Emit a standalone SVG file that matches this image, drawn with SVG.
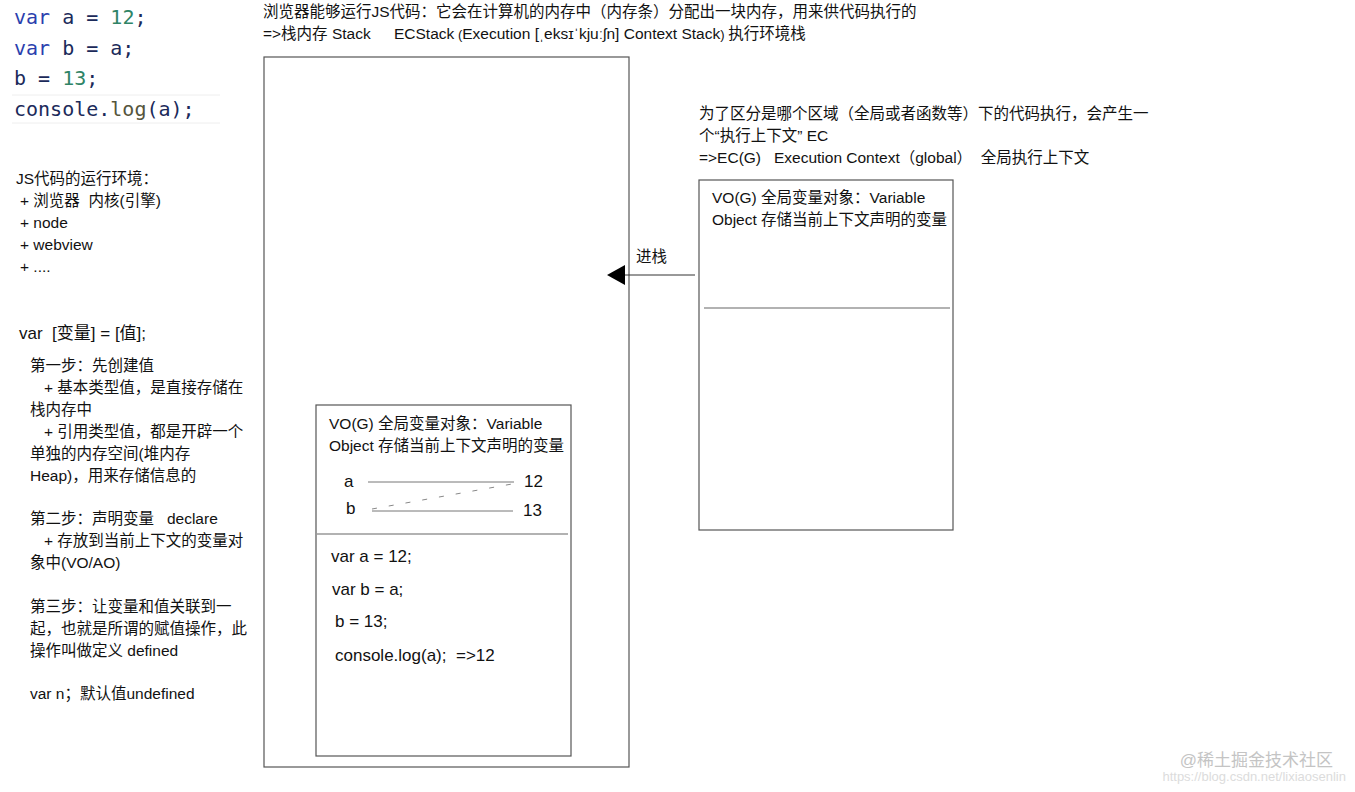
<svg xmlns="http://www.w3.org/2000/svg" width="1355" height="792" viewBox="0 0 1355 792" xml:space="preserve">
<style>
text{white-space:pre}
.t{font-family:"Liberation Sans","Noto Sans CJK SC",sans-serif;font-size:15.5px;fill:#111}
.code{font-family:"DejaVu Sans Mono","Liberation Mono",monospace;font-size:20px}
.kw{fill:#2b3fae}.id{fill:#1b2a5a}.num{fill:#2f8466}.fn{fill:#55553c}
.box{fill:#fff;stroke:#555;stroke-width:1.2}
.div{stroke:#666;stroke-width:1.2}
.m{font-family:"Liberation Sans","Noto Sans CJK SC",sans-serif;font-size:17px;fill:#111}
</style>
<defs>
<marker id="ah" markerWidth="18" markerHeight="20" refX="0" refY="10" orient="auto" markerUnits="userSpaceOnUse">
<path d="M0,0 L18,10 L0,20 Z" fill="#000"/>
</marker>
</defs>
<rect width="1355" height="792" fill="#fff"/>
<g id="code">
<line x1="12" y1="95" x2="220" y2="95" stroke="#eee" stroke-width="1"/>
<line x1="12" y1="123" x2="220" y2="123" stroke="#eee" stroke-width="1"/>
<text class="code" x="14" y="24"><tspan class="kw">var</tspan><tspan class="id"> a = </tspan><tspan class="num">12</tspan><tspan class="id">;</tspan></text>
<text class="code" x="14" y="55"><tspan class="kw">var</tspan><tspan class="id"> b = a;</tspan></text>
<text class="code" x="14" y="85"><tspan class="id">b = </tspan><tspan class="num">13</tspan><tspan class="id">;</tspan></text>
<text class="code" x="14" y="116"><tspan class="id">console.</tspan><tspan class="fn">log</tspan><tspan class="id">(a);</tspan></text>
</g>
<g id="title">
<text class="t" x="263" y="17">浏览器能够运行JS代码：它会在计算机的内存中（内存条）分配出一块内存，用来供代码执行的</text>
<text class="t" x="263" y="39">=&gt;栈内存 Stack<tspan x="394">ECStack</tspan><tspan font-size="13"> (</tspan>Execution [ˌeksɪˈkjuːʃn] Context Stack<tspan font-size="13">) </tspan>执行环境栈</text>
</g>
<g id="env">
<text class="t" x="16" y="184">JS代码的运行环境：</text>
<text class="t" x="20" y="206">+ 浏览器  内核(引擎)</text>
<text class="t" x="20" y="228">+ node</text>
<text class="t" x="20" y="250">+ webview</text>
<text class="t" x="20" y="272">+ ....</text>
</g>
<g id="steps">
<text class="m" x="19" y="339">var  [变量] = [值];</text>
<text class="t" x="30" y="371">第一步：先创建值</text>
<text class="t" x="44" y="393">+ 基本类型值，是直接存储在</text>
<text class="t" x="30" y="415">栈内存中</text>
<text class="t" x="44" y="437">+ 引用类型值，都是开辟一个</text>
<text class="t" x="30" y="459">单独的内存空间(堆内存</text>
<text class="t" x="30" y="481">Heap)，用来存储信息的</text>
<text class="t" x="30" y="524">第二步：声明变量   declare</text>
<text class="t" x="44" y="546">+ 存放到当前上下文的变量对</text>
<text class="t" x="30" y="568">象中(VO/AO)</text>
<text class="t" x="30" y="612">第三步：让变量和值关联到一</text>
<text class="t" x="30" y="634">起，也就是所谓的赋值操作，此</text>
<text class="t" x="30" y="656">操作叫做定义 defined</text>
<text class="t" x="30" y="699">var n；默认值undefined</text>
</g>
<g id="stack">
<rect class="box" x="264" y="57" width="365" height="710"/>
</g>
<g id="ec-in-stack">
<rect class="box" x="316" y="405" width="255" height="351"/>
<text class="t" x="329" y="429">VO(G) 全局变量对象：Variable</text>
<text class="t" x="329" y="451">Object 存储当前上下文声明的变量</text>
<text class="m" x="344" y="487" font-size="16">a</text>
<line x1="368" y1="482" x2="514" y2="482" stroke="#777" stroke-width="1"/>
<text class="m" x="524" y="487" font-size="16">12</text>
<text class="m" x="346" y="514" font-size="16">b</text>
<line x1="372" y1="511" x2="513" y2="511" stroke="#777" stroke-width="1"/>
<line x1="372" y1="509" x2="512" y2="484" stroke="#888" stroke-width="1" stroke-dasharray="5 12"/>
<text class="m" x="523" y="516" font-size="16">13</text>
<line class="div" x1="317" y1="534" x2="568" y2="534"/>
<text class="m" x="331" y="562">var a = 12;</text>
<text class="m" x="332" y="595">var b = a;</text>
<text class="m" x="335" y="627">b = 13;</text>
<text class="m" x="335" y="661">console.log(a);  =&gt;12</text>
</g>
<g id="ec-desc">
<text class="t" x="699" y="119">为了区分是哪个区域（全局或者函数等）下的代码执行，会产生一</text>
<text class="t" x="699" y="141">个“执行上下文” EC</text>
<text class="t" x="699" y="163">=&gt;EC(G)   Execution Context（global）  全局执行上下文</text>
</g>
<g id="ec-global">
<rect class="box" x="699" y="180" width="254" height="350"/>
<text class="t" x="712" y="203">VO(G) 全局变量对象：Variable</text>
<text class="t" x="712" y="225">Object 存储当前上下文声明的变量</text>
<line class="div" x1="704" y1="308" x2="950" y2="308"/>
</g>
<g id="connectors">
<line x1="695" y1="275" x2="625" y2="275" stroke="#333" stroke-width="1" marker-end="url(#ah)"/>
<text class="t" x="636" y="262">进栈</text>
</g>
<g id="watermark">
<text x="1333" y="766" text-anchor="end" font-family="Liberation Sans,'Noto Sans CJK SC',sans-serif" font-size="17" fill="#c4c4c4">@稀土掘金技术社区</text>
<text x="1346" y="781" text-anchor="end" font-family="Liberation Sans,sans-serif" font-size="13" fill="#dcdcdc">https://blog.csdn.net/lixiaosenlin</text>
</g>
</svg>
